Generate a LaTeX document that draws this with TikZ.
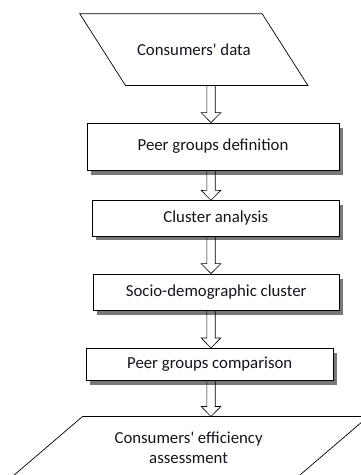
\documentclass[tikz,border=0pt]{standalone}
\usepackage{fontspec}
\setmainfont{Carlito}
\usetikzlibrary{calc,shadows}
\definecolor{txt}{RGB}{20,20,30}
\definecolor{shd}{RGB}{120,120,120}
\tikzset{
  lbl/.style={inner sep=0pt, font=\fontsize{16.8}{20}\selectfont, text=txt, align=center},
  stepbox/.style={lbl, draw=black, line width=0.7pt, fill=white,
    drop shadow={shadow xshift=3.5pt, shadow yshift=-4.5pt, fill=shd, opacity=1}},
  outline/.style={draw=black, line width=0.7pt},
  harrow/.style={draw=black, line width=0.6pt},
}
\newcommand\hollowarrow[2]{%
  \path[harrow] let \p1=(ax|-#1.south), \p2=(ax|-#2.north) in
    (\x1-4.2pt,\y1) -- (\x1-4.2pt,\y2+10pt) -- (\x1-9.8pt,\y2+10pt) -- (\x1,\y2)
    -- (\x1+9.8pt,\y2+10pt) -- (\x1+4.2pt,\y2+10pt) -- (\x1+4.2pt,\y1);}
\begin{document}
\begin{tikzpicture}[x=1pt,y=-1pt]
\useasboundingbox (0,0) rectangle (361,475);
\coordinate (ax) at (211,0);
% input parallelogram
\node[lbl, minimum width=182pt, minimum height=71.3pt] (data) at (193.85,49.65) {Consumers\textquotesingle{} data};
\draw[outline] ($(data.north west)+(-22.85,0)$) -- ($(data.north east)+(-22.85,0)$)
  -- ($(data.south east)+(22.85,0)$) -- ($(data.south west)+(22.85,0)$) -- cycle;
% process boxes
\node[stepbox, minimum width=252pt, minimum height=47pt] (peer) at (213,146.5) {Peer groups definition};
\node[stepbox, minimum width=247pt, minimum height=35.3pt] (clus) at (215.8,218.3) {Cluster analysis};
\node[stepbox, minimum width=246.3pt, minimum height=36pt] (socio) at (216.2,292) {Socio-demographic cluster};
\node[stepbox, minimum width=247.3pt, minimum height=31.7pt] (comp) at (209.7,364.2) {Peer groups comparison};
% output parallelogram
\node[lbl, minimum width=285.3pt, minimum height=62.6pt] (eff) at (188.6,448) {Consumers\textquotesingle{} efficiency\\assessment};
\draw[outline] ($(eff.north west)+(36.8,0)$) -- ($(eff.north east)+(36.8,0)$)
  -- ($(eff.south east)+(-36.8,0)$) -- ($(eff.south west)+(-36.8,0)$) -- cycle;
% hollow arrows
\hollowarrow{data}{peer}
\hollowarrow{peer}{clus}
\hollowarrow{clus}{socio}
\hollowarrow{socio}{comp}
\hollowarrow{comp}{eff}
\end{tikzpicture}
\end{document}
